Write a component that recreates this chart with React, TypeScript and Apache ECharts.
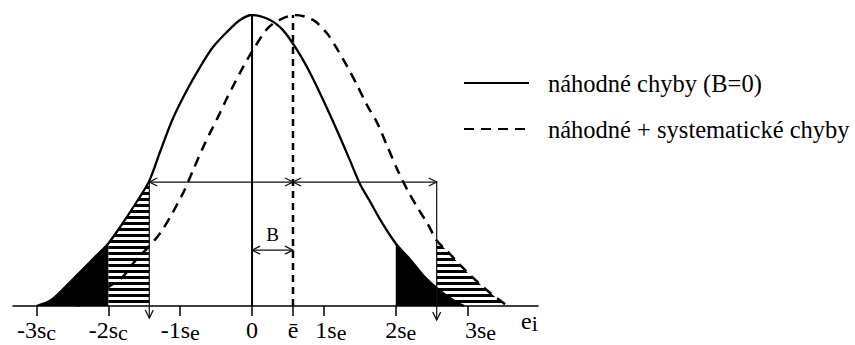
import React, { useEffect, useRef } from 'react';
import * as echarts from 'echarts';

// ---- data (x in units of s, y relative to peak height) ----
const solidX = [-3.0, -2.8, -2.6, -2.4, -2.2, -2.0, -1.8, -1.6, -1.43, -1.28, -1.1, -0.905, -0.724, -0.543, -0.348, -0.167, 0, 0.25, 0.43, 0.626, 0.81, 0.99, 1.18, 1.36, 1.5, 1.64, 1.8, 2.0, 2.2, 2.4, 2.6, 2.8, 2.95];
const solidY = [0, 0.02, 0.065, 0.115, 0.165, 0.215, 0.285, 0.36, 0.43, 0.53, 0.645, 0.742, 0.821, 0.89, 0.942, 0.983, 1.0, 0.983, 0.948, 0.88, 0.8, 0.708, 0.605, 0.502, 0.42, 0.36, 0.29, 0.215, 0.16, 0.1, 0.055, 0.02, 0];
const dashX = [-2.43, -2.2, -2.0, -1.8, -1.66, -1.28, -0.96, -0.82, -0.68, -0.585, -0.473, -0.348, -0.265, -0.125, 0.014, 0.22, 0.4, 0.6, 0.85, 1.04, 1.18, 1.32, 1.46, 1.6, 1.74, 1.88, 2.03, 2.17, 2.31, 2.45, 2.57, 2.73, 2.9, 3.04, 3.29, 3.5, 3.55];
const dashY = [0, 0.03, 0.065, 0.1, 0.145, 0.25, 0.388, 0.467, 0.546, 0.595, 0.65, 0.715, 0.755, 0.821, 0.88, 0.955, 0.985, 1.0, 0.983, 0.938, 0.885, 0.825, 0.76, 0.69, 0.63, 0.55, 0.465, 0.395, 0.335, 0.28, 0.225, 0.185, 0.14, 0.105, 0.05, 0.01, 0];

const ebar = 0.57; // ē
const limitLeft = -1.43; // ē − 2s
const limitRight = 2.57; // ē + 2s
const blackLeftEnd = -2;
const blackRightStart = 2;
const arrowLevel = 0.426;
const biasLevel = 0.192;
const peakLevel = 1.0;

const tickValues = [-3, -2, -1, 0, ebar, 1, 2, 3];
const tickMain = ['-3s', '-2s', '-1s', '0', 'ē', '1s', '2s', '3s'];
const tickSub = ['c', 'c', 'e', '', '', 'e', 'e', 'e'];
const seriesNames = ['náhodné chyby (B=0)', 'náhodné + systematické chyby'];
const axisNameMain = 'e';
const axisNameSub = 'i';
const biasLabel = 'B';

// ---- styling ----
const FONT = '"Liberation Serif", "Times New Roman", serif';
const labelNudge: Record<string, number> = { '1': 14, '2': 10, '3': 26 };

export default function App() {
  const ref = useRef<HTMLDivElement>(null);

  useEffect(() => {
    if (!ref.current) return;
    const chart = echarts.init(ref.current, null, { renderer: 'svg' });

    const cv = document.createElement('canvas');
    cv.width = 8;
    cv.height = 6;
    const ctx = cv.getContext('2d')!;
    ctx.fillStyle = '#000';
    ctx.fillRect(0, 0, 8, 3);
    const hatch: any = { image: cv.toDataURL(), repeat: 'repeat', imageWidth: 8, imageHeight: 6 };

    const solid = solidX.map((x, i) => [x, solidY[i]]);
    const dashed = dashX.map((x, i) => [x, dashY[i]]);

    const areaSeries = (data: number[][], color: any) => ({
      type: 'line',
      data,
      smooth: 0.3,
      symbol: 'none',
      silent: true,
      lineStyle: { width: 0 },
      areaStyle: { color, opacity: 1 },
      z: 1,
    });

    const rich: any = {
      m: { fontFamily: FONT, fontSize: 24, color: '#000', lineHeight: 24 },
      s: { fontFamily: FONT, fontSize: 22, color: '#000', lineHeight: 20, padding: [5, 0, 0, 0] },
    };
    Object.keys(labelNudge).forEach((k) => {
      rich['g' + k] = { width: labelNudge[k], fontSize: 10 };
    });

    const chev = (p: number[], dx: number, dy: number, len = 8, half = 4) => ({
      type: 'polyline',
      shape: {
        points: [
          [p[0] - dx * len - dy * half, p[1] - dy * len + dx * half],
          [p[0], p[1]],
          [p[0] - dx * len + dy * half, p[1] - dy * len - dx * half],
        ],
      },
      style: { stroke: '#111', lineWidth: 1.3, fill: 'none' },
    });

    const option: any = {
      animation: false,
      backgroundColor: '#fff',
      grid: { left: 13, right: 317, top: 15, bottom: 39, containLabel: false, outerBoundsMode: 'none' },
      legend: {
        orient: 'vertical',
        left: 463,
        top: 70,
        padding: 0,
        itemWidth: 65,
        itemHeight: 14,
        itemGap: 20,
        selectedMode: false,
        data: seriesNames,
        itemStyle: { opacity: 0 },
        textStyle: { fontFamily: FONT, fontSize: 24.5, color: '#000', lineHeight: 26, padding: [0, 0, 0, 14] },
      },
      xAxis: {
        type: 'value',
        min: -3.327,
        max: 3.98,
        splitLine: { show: false },
        axisLine: { lineStyle: { color: '#000', width: 1.5 } },
        axisTick: { customValues: tickValues, length: 10, lineStyle: { color: '#000', width: 1.5 } },
        axisLabel: {
          customValues: tickValues,
          margin: 12,
          formatter: (v: number) => {
            const i = tickValues.findIndex((t) => Math.abs(t - v) < 1e-6);
            if (i < 0) return '';
            const key = String(tickValues[i]);
            const pre = labelNudge[key] ? `{g${key}| }` : '';
            return pre + `{m|${tickMain[i]}}` + (tickSub[i] ? `{s|${tickSub[i]}}` : '');
          },
          rich,
        },
        name: `{m|${axisNameMain}}{s|${axisNameSub}}`,
        nameLocation: 'end',
        nameGap: -17,
        nameTextStyle: { align: 'left', verticalAlign: 'top', padding: [3, 0, 0, 0], rich },
      },
      yAxis: { type: 'value', min: 0, max: 1, show: false },
      series: [
        areaSeries(solid.filter((p) => p[0] <= blackLeftEnd), '#000'),
        areaSeries(solid.filter((p) => p[0] >= blackLeftEnd && p[0] <= limitLeft), hatch),
        areaSeries(dashed.filter((p) => p[0] >= limitRight), hatch),
        areaSeries(solid.filter((p) => p[0] >= blackRightStart), '#000'),
        {
          name: seriesNames[0],
          type: 'line',
          data: solid,
          smooth: 0.3,
          symbol: 'none',
          lineStyle: { color: '#000', width: 2.3 },
          itemStyle: { color: '#000' },
          z: 3,
        },
        {
          name: seriesNames[1],
          type: 'line',
          data: dashed,
          smooth: 0.3,
          symbol: 'none',
          lineStyle: { color: '#000', width: 2.5, type: [10, 7] },
          itemStyle: { color: '#000' },
          z: 3,
        },
        {
          type: 'custom',
          coordinateSystem: 'cartesian2d',
          data: [[0, 0]],
          clip: false,
          silent: true,
          z: 5,
          renderItem: (_params: any, api: any) => {
            const c = (x: number, y: number) => api.coord([x, y]);
            const base = c(0, 0)[1];
            const thin = { stroke: '#111', lineWidth: 1.2 };
            const L = c(limitLeft, arrowLevel);
            const E = c(ebar, arrowLevel);
            const R = c(limitRight, arrowLevel);
            const b0 = c(0, biasLevel);
            const b1 = c(ebar, biasLevel);
            const bottomL = [L[0], base + 12];
            const bottomR = [R[0], base + 14];
            return {
              type: 'group',
              children: [
                { type: 'line', shape: { x1: c(0, 0)[0], y1: base, x2: c(0, peakLevel)[0], y2: c(0, peakLevel)[1] }, style: { stroke: '#000', lineWidth: 2 } },
                { type: 'line', shape: { x1: c(ebar, 0)[0], y1: base, x2: c(ebar, peakLevel)[0], y2: c(ebar, peakLevel)[1] }, style: { stroke: '#000', lineWidth: 2.5, lineDash: [7, 5] } },
                { type: 'line', shape: { x1: L[0], y1: L[1], x2: R[0], y2: R[1] }, style: thin },
                chev(L, -1, 0),
                chev(E, 1, 0),
                chev(E, -1, 0),
                chev(R, 1, 0),
                { type: 'line', shape: { x1: L[0], y1: L[1], x2: bottomL[0], y2: bottomL[1] }, style: thin },
                { type: 'line', shape: { x1: R[0], y1: R[1], x2: bottomR[0], y2: bottomR[1] }, style: thin },
                chev(bottomL, 0, 1),
                chev(bottomR, 0, 1),
                { type: 'line', shape: { x1: b0[0], y1: b0[1], x2: b1[0], y2: b1[1] }, style: thin },
                chev(b0, -1, 0),
                chev(b1, 1, 0),
                {
                  type: 'text',
                  x: (b0[0] + b1[0]) / 2,
                  y: b0[1] - 6,
                  style: {
                    text: biasLabel,
                    align: 'center',
                    verticalAlign: 'bottom',
                    fontSize: 19,
                    fontFamily: FONT,
                    fill: '#000',
                  },
                },
              ],
            };
          },
        },
      ],
    };

    chart.setOption(option);
    return () => chart.dispose();
  }, []);

  return <div ref={ref} style={{ position: 'absolute', left: 0, top: 0, width: 855, height: 345, background: '#fff' }} />;
}
